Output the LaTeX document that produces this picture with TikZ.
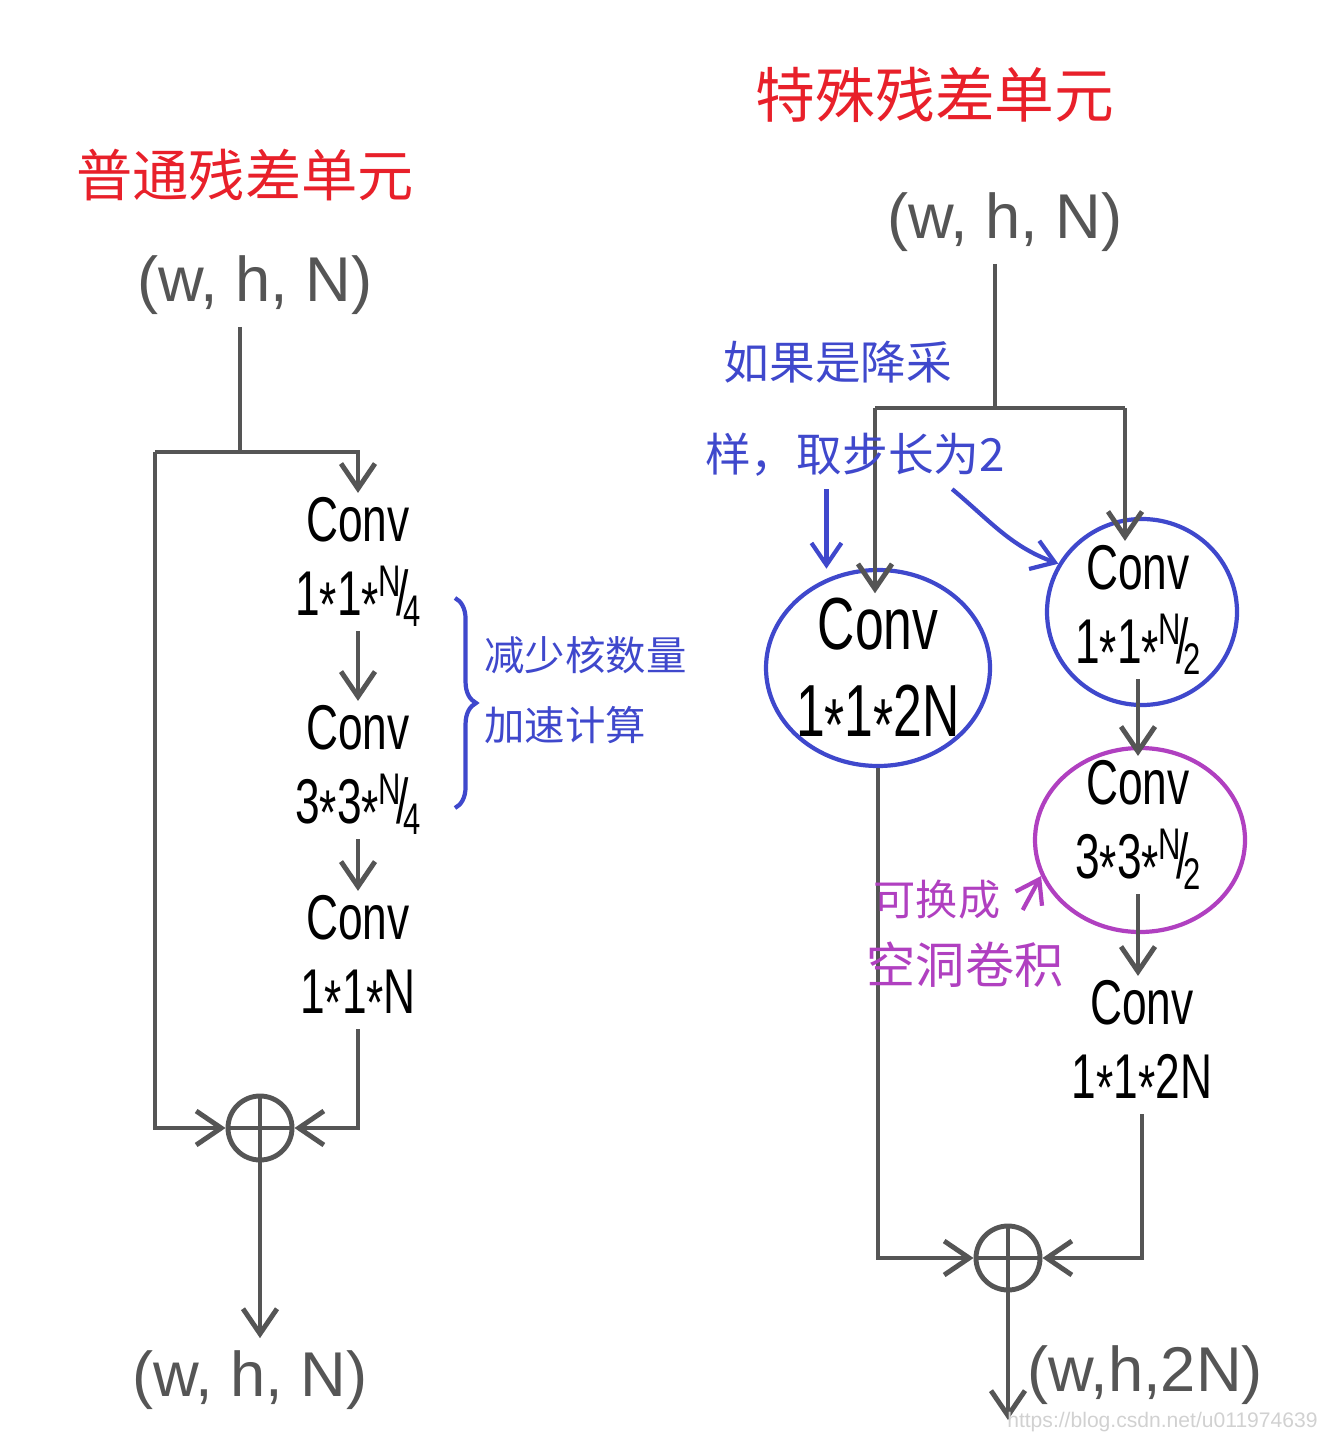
\documentclass[tikz,border=0pt]{standalone}
\usepackage{fontspec}
\setmainfont{Liberation Sans}
\newfontfamily\handfont[FakeStretch=0.7]{Liberation Sans}
\newfontfamily\cjk{Noto Sans CJK SC}
\usetikzlibrary{arrows.meta,positioning,shapes.geometric,decorations.pathreplacing}
\definecolor{penred}{HTML}{E8202A}
\definecolor{penblue}{HTML}{3F48CC}
\definecolor{penpurple}{HTML}{B040C0}
\definecolor{pengray}{HTML}{555555}
\newcommand{\mul}{\raisebox{-.35ex}{*}}
\newcommand{\slfrac}[2]{\raisebox{.55ex}{\scalebox{.7}{#1}}\kern-.08em/\kern-.08em\raisebox{-.35ex}{\scalebox{.7}{#2}}}
\tikzset{
  wire/.style={draw=pengray, line width=1.4pt},
  arr/.style={wire, -{Straight Barb[length=2.5mm,width=3.4mm]}},
  notearr/.style={draw=penblue, line width=1.2pt, -{Straight Barb[length=2.2mm,width=3mm]}},
  dims/.style={text=pengray, font=\fontsize{18}{20}\selectfont},
  conv/.style={align=center, font=\handfont\fontsize{18}{21}\selectfont, inner sep=1pt},
  title/.style={text=penred, font=\cjk\fontsize{16}{18}\selectfont},
  note/.style={text=penblue, font=\cjk\fontsize{13}{15}\selectfont},
  ring/.style={draw=#1, ellipse, line width=1.2pt, inner sep=0pt},
  addop/.style={circle, draw=pengray, line width=1.4pt, minimum size=6.4mm, inner sep=0pt,
    path picture={\draw[pengray, line width=1.4pt]
      (path picture bounding box.north) -- (path picture bounding box.south)
      (path picture bounding box.west) -- (path picture bounding box.east);}}
}
\begin{document}
\begin{tikzpicture}[>=latex]
            \useasboundingbox (0,0) rectangle (13.38,-14.38);
            % ==== LEFT UNIT ====
            \node[title] (titleL) at (2.45,-1.75) {普通残差单元};
            \node[dims] (inL) at (2.55,-2.85) {(w, h, N)};
            \coordinate (splitL) at (2.40,-4.52);
            \coordinate (skipL) at (1.55,-4.52);
            \node[conv] (convL1) at (3.58,-5.62) {Conv\\1\mul1\mul\slfrac{N}{4}};
            \node[conv] (convL2) at (3.58,-7.70) {Conv\\3\mul3\mul\slfrac{N}{4}};
            \node[conv] (convL3) at (3.58,-9.60) {Conv\\1\mul1\mul N};
            \node[addop] (addL) at (2.60,-11.28) {};
            \node[dims] (outL) at (2.50,-13.80) {(w, h, N)};
            \draw[wire] (inL.south -| splitL) -- (splitL);
            \draw[arr] (skipL) -| (convL1.north);
            \draw[arr] (skipL) |- (addL.west);
            \draw[arr] (convL1) -- (convL2);
            \draw[arr] (convL2) -- (convL3);
            \draw[arr] (convL3.south) |- (addL.east);
            \draw[arr] (addL.south) -- (addL.south |- outL.north);
            % ==== LEFT NOTE ====
            \draw[penblue, line width=1.2pt, decorate, decoration={brace, amplitude=6pt}]
                (4.55,-5.98) -- (4.55,-8.08);
            \node[note, font=\cjk\fontsize{11.5}{13}\selectfont, anchor=west] (noteL1) at (4.72,-6.55) {减少核数量};
            \node[note, font=\cjk\fontsize{11.5}{13}\selectfont, anchor=west] (noteL2) at (4.72,-7.25) {加速计算};

            % ==== RIGHT UNIT ====
            \node[title, font=\cjk\fontsize{17}{19}\selectfont] (titleR) at (9.35,-0.95) {特殊残差单元};
            \node[dims] (inR) at (10.05,-2.22) {(w, h, N)};
            \coordinate (splitR) at (9.95,-4.08);
            \coordinate (branchA) at (8.75,-4.08);
            \coordinate (branchB) at (11.25,-4.08);
            \node[conv, font=\handfont\fontsize{21}{25}\selectfont] (convA) at (8.78,-6.74) {Conv\\1\mul1\mul2N};
            \node[ring=penblue, minimum width=2.24cm, minimum height=1.96cm] (ringA) at (8.78,-6.68) {};
            \node[conv] (convB) at (11.38,-6.10) {Conv\\1\mul1\mul\slfrac{N}{2}};
            \node[ring=penblue, minimum width=1.9cm, minimum height=1.86cm] (ringB) at (11.42,-6.12) {};
            \node[conv] (convC) at (11.38,-8.25) {Conv\\3\mul3\mul\slfrac{N}{2}};
            \node[ring=penpurple, minimum width=2.1cm, minimum height=1.84cm] (ringC) at (11.40,-8.40) {};
            \node[conv] (convD) at (11.42,-10.45) {Conv\\1\mul1\mul2N};
            \node[addop] (addR) at (10.08,-12.58) {};
            \coordinate (outR) at (10.08,-14.20);
            \node[dims] (outRtxt) at (11.45,-13.75) {(w,h,2N)};
            \draw[wire] (inR.south -| splitR) -- (splitR);
            \draw[wire] (branchA) -- (branchB);
            \draw[arr] (branchA) -- (branchA |- convA.north);
            \draw[arr] (branchB) -- (branchB |- convB.north);
            \draw[arr] (convB.south) -- (convC.north);
            \draw[arr] (convC.south) -- (convC.south |- convD.north);
            \draw[arr] (convD.south) |- (addR.east);
            \draw[arr] (ringA.south) |- (addR.west);
            \draw[arr] (addR.south) -- (outR);
            % ==== RIGHT NOTES ====
            \node[note] (noteR1) at (8.38,-3.62) {如果是降采};
            \node[note] (noteR2) at (8.55,-4.55) {样，取步长为2};
            \draw[notearr] (noteR2.south -| ringA.120) -- ([yshift=1mm]ringA.120);
            \draw[notearr] ([xshift=-6.5mm]noteR2.south east) to[out=-40,in=160] (ringB.150);
            \node[note, text=penpurple, font=\cjk\fontsize{12}{14}\selectfont] (noteP1) at (9.37,-9.00) {可换成};
            \node[note, text=penpurple, font=\cjk\fontsize{14}{16}\selectfont] (noteP2) at (9.65,-9.65) {空洞卷积};
            \draw[notearr, draw=penpurple] ([xshift=1mm,yshift=-1mm]noteP1.east) -- (ringC.200);

            \node[text=black!18, font=\fontsize{6}{7}\selectfont, anchor=east] (mark) at (13.30,-14.22) {https://blog.csdn.net/u011974639};
         \end{tikzpicture}
\end{document}
